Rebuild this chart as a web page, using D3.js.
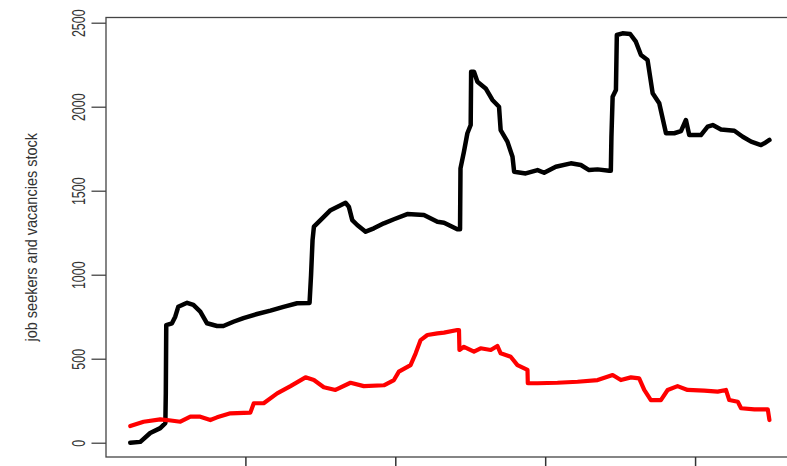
<!DOCTYPE html>
<html><head><meta charset="utf-8">
<script src="https://cdn.jsdelivr.net/npm/d3@7/dist/d3.min.js"></script>
<style>body{margin:0;background:#fff;overflow:hidden}</style></head>
<body>
<svg id="c" width="787" height="466"></svg>
<script>
// job seekers stock (black)
const seekersT = [23.2,29.9,36.5,43.2,46.6,46.9,47.2,51.0,53.2,55.2,61.1,65.3,69.9,74.4,81.1,85.3,92.0,98.7,107.8,116.7,125.4,134.5,142.8,143.8,144.8,145.7,150.1,156.8,163.5,166.8,169.0,171.3,174.6,180.2,185.7,192.4,199.1,208.0,219.1,228.1,232.5,241.4,243.2,243.5,245.8,248.1,250.3,250.6,252.5,254.8,260.3,264.8,269.2,270.3,274.8,278.2,279.3,287.0,294.9,299.3,307.1,317.1,323.8,329.3,334.9,342.7,343.8,344.2,345.0,347.2,347.8,351.6,356.7,360.5,363.9,368.3,371.7,376.1,380.6,386.1,390.6,393.9,396.1,403.9,408.4,411.8,417.3,426.2,431.8,437.4,444.0,446.2,449.6];
const seekersV = [0,5,58,87,117,295,700,711,750,809,833,820,780,711,695,695,720,742,766,786,809,830,832,998,1206,1286,1325,1384,1414,1428,1405,1325,1296,1256,1276,1306,1330,1361,1355,1315,1309,1270,1270,1633,1732,1842,1891,2208,2208,2149,2109,2040,2000,1861,1792,1702,1613,1603,1623,1607,1643,1663,1653,1623,1627,1619,1619,1821,2059,2099,2427,2437,2433,2387,2308,2278,2080,2020,1842,1842,1855,1921,1831,1831,1881,1891,1865,1857,1821,1792,1772,1782,1802];
// vacancies stock (red)
const vacanciesT = [23.2,32.1,43.2,47.7,56.6,63.3,69.9,76.6,81.1,90.0,103.3,105.6,112.2,121.2,130.1,140.1,145.7,152.3,160.1,170.1,179.0,192.4,199.1,202.4,210.2,213.6,216.9,221.4,228.1,232.5,241.4,242.5,242.8,245.8,252.5,256.9,263.7,268.1,270.3,277.0,281.5,288.2,288.4,294.9,308.2,321.6,335.0,345.0,350.5,357.2,362.7,366.1,370.5,377.2,381.7,388.3,395.0,406.1,415.1,420.6,422.8,428.5,430.7,439.6,448.5,449.6];
const vacanciesV = [99,125,139,135,125,155,155,135,151,175,179,235,235,294,337,389,373,330,314,357,337,342,373,423,462,532,611,641,651,655,671,671,552,571,542,562,552,576,532,512,462,433,354,354,357,363,373,403,373,389,383,314,254,254,314,337,314,310,304,314,254,244,205,199,199,135];
const yTicks = [0,500,1000,1500,2000,2500];
const xTicks = [100,200,300,400];
const yLabel = "job seekers and vacancies stock";

const svg = d3.select("#c");
const L = 106, R = 794, T = 17.5, B = 457;
const x = d3.scaleLinear().domain([7, 466]).range([L, R]);
const y = d3.scaleLinear().domain([-85, 2531]).range([B, T]);

// box
svg.append("rect").attr("x", L).attr("y", T).attr("width", R - L).attr("height", B - T)
  .attr("fill", "none").attr("stroke", "#444").attr("stroke-width", 1.3);

// y axis
const ya = svg.append("g").attr("transform", `translate(${L},0)`)
  .call(d3.axisLeft(y).tickValues(yTicks).tickSize(14.5).tickFormat(""));
ya.select(".domain").remove();
ya.selectAll("line").attr("stroke", "#444").attr("stroke-width", 1.3);
ya.selectAll(".tick").append("text")
  .attr("transform", "translate(-28,0) rotate(-90) scale(1,1.45)")
  .attr("text-anchor", "middle").attr("dy", "0.36em")
  .attr("fill", "#333")
  .style("font-family", "'Liberation Sans', Arial, sans-serif").style("font-size", "12.5px")
  .text(d => d);

// x axis
const xa = svg.append("g").attr("transform", `translate(0,${B})`)
  .call(d3.axisBottom(x).tickValues(xTicks).tickSize(14).tickFormat(""));
xa.select(".domain").remove();
xa.selectAll("line").attr("stroke", "#333").attr("stroke-width", 1.5);

// y label
svg.append("text").attr("transform", `translate(31,${(T + B) / 2}) rotate(-90) scale(1,1.2)`)
  .attr("text-anchor", "middle").attr("dy", "0.36em").attr("fill", "#333")
  .style("font-family", "'Liberation Sans', Arial, sans-serif").style("font-size", "14.5px")
  .text(yLabel);

const line = d3.line().x(d => x(d[0])).y(d => y(d[1]));
svg.append("path").datum(seekersT.map((t, i) => [t, seekersV[i]]))
  .attr("d", line).attr("fill", "none").attr("stroke", "#000").attr("stroke-width", 4.5)
  .attr("stroke-linejoin", "round").attr("stroke-linecap", "round");
svg.append("path").datum(vacanciesT.map((t, i) => [t, vacanciesV[i]]))
  .attr("d", line).attr("fill", "none").attr("stroke", "#ff0000").attr("stroke-width", 4.2)
  .attr("stroke-linejoin", "round").attr("stroke-linecap", "round");
</script>
</body></html>
